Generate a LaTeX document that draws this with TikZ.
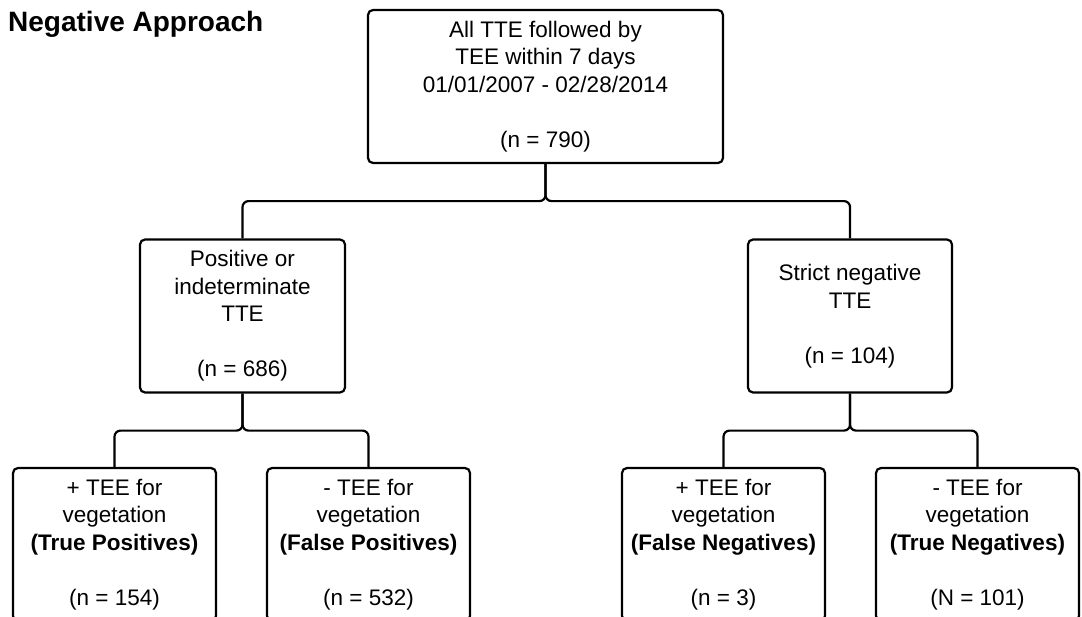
\documentclass[tikz,border=0pt]{standalone}
\usepackage{fontspec}
\setmainfont{Liberation Sans}

\begin{document}
\begin{tikzpicture}[x=1pt, y=-1pt,
    box/.style={draw, line width=2.2pt, rounded corners=5pt, align=center,
      minimum height=153pt, inner sep=0pt, font=\fontsize{22.5}{27.5}\selectfont},
    link/.style={line width=2.2pt, rounded corners=6pt}]
      \useasboundingbox (0,0) rectangle (1082,616);

      \node[anchor=base west, inner sep=0pt, font=\fontsize{28}{33}\selectfont\bfseries] (title) at (8,31.5) {Negative Approach};

      \node[box, minimum width=355pt] (all) at (545.5,86.5) {All TTE followed by\\TEE within 7 days\\01/01/2007 - 02/28/2014\\[27.5pt](n = 790)};

      \node[box, minimum width=205pt] (posind) at (242.5,316) {Positive or\\indeterminate\\TTE\\[27.5pt](n = 686)};
      \node[box, minimum width=204pt] (strictneg) at (850,316) {Strict negative\\TTE\\[27.5pt](n = 104)};

      \node[box, minimum width=203pt] (truepos) at (114.5,544.5) {+ TEE for\\vegetation\\\textbf{(True Positives)}\\[27.5pt](n = 154)};
      \node[box, minimum width=203pt] (falsepos) at (368.5,544.5) {- TEE for\\vegetation\\\textbf{(False Positives)}\\[27.5pt](n = 532)};
      \node[box, minimum width=203pt] (falseneg) at (723.5,544.5) {+ TEE for\\vegetation\\\textbf{(False Negatives)}\\[27.5pt](n = 3)};
      \node[box, minimum width=203pt] (trueneg) at (977.5,544.5) {- TEE for\\vegetation\\\textbf{(True Negatives)}\\[27.5pt](N = 101)};

      \draw[link] (all.south) -- ++(0,37) -| (posind.north);
      \draw[link] (all.south) -- ++(0,37) -| (strictneg.north);

      \draw[link] (posind.south) -- ++(0,37) -| (truepos.north);
      \draw[link] (posind.south) -- ++(0,37) -| (falsepos.north);
      \draw[link] (strictneg.south) -- ++(0,37) -| (falseneg.north);
      \draw[link] (strictneg.south) -- ++(0,37) -| (trueneg.north);
    \end{tikzpicture}
\end{document}
